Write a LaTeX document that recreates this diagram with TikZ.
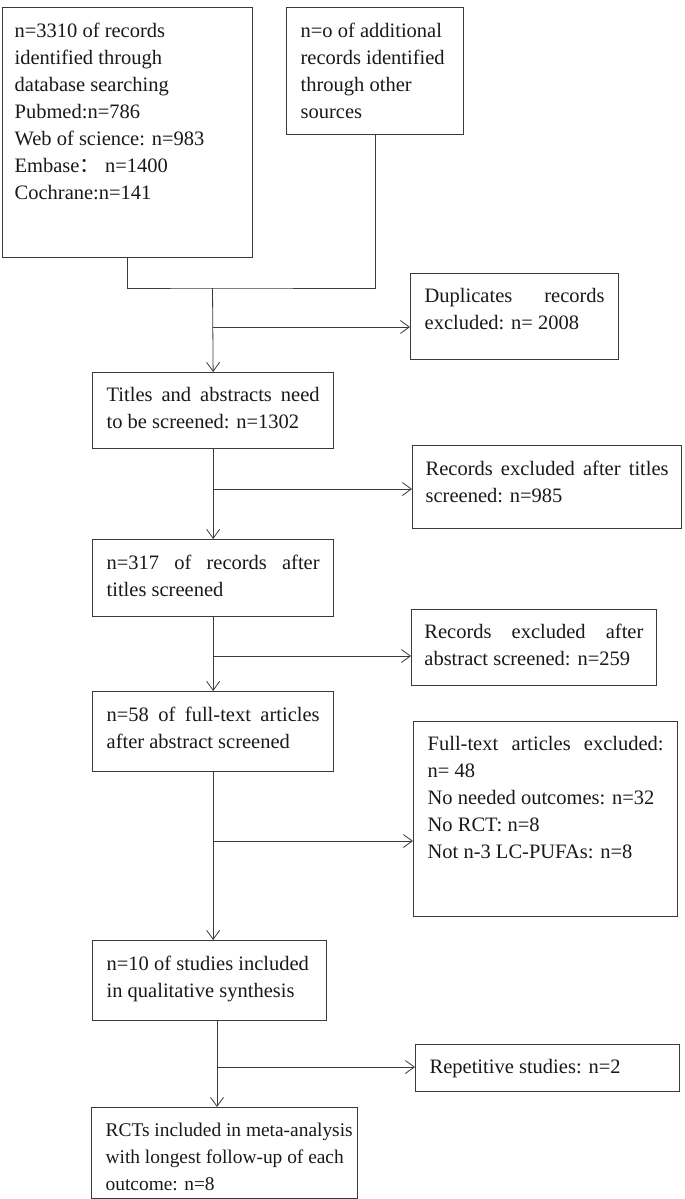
\documentclass[tikz,border=0pt]{standalone}
\usepackage{fontspec}
\setmainfont{Liberation Serif}
\newfontfamily\cjk{Noto Sans CJK SC}
\usetikzlibrary{arrows.meta}
\definecolor{linec}{HTML}{3A3A3A}
\newcommand{\boxtext}[3]{\parbox[t][#2pt][t]{#1pt}{#3}}

\begin{document}
\begin{tikzpicture}[x=1pt,y=-1pt,
  font=\fontsize{20.5}{27}\selectfont,
  box/.style={draw=linec,line width=1.3pt,anchor=north west,inner xsep=14pt,inner ysep=15pt,text=black!90},
  conn/.style={draw=linec,line width=0.8pt},
  arr/.style={conn,-{Straight Barb[length=9pt,width=13pt]}}]
  \useasboundingbox (0,0) rectangle (685,1199);

  \node[box,inner xsep=12pt] (db) at (2,7) {\boxtext{226}{220}{n=3310 of records\\
    identified through\\ database searching\\ Pubmed:n=786\\ Web of science: n=983\\
    Embase{\cjk ：} n=1400\\ Cochrane:n=141}};
  \node[box] (other) at (286,7) {\boxtext{149}{97}{n=o of additional\\ records identified\\
    through other\\ sources}};
  \node[box] (dup) at (410,273) {\boxtext{180}{56}{Duplicates records\linebreak excluded: n= 2008}};
  \node[box] (titles) at (92,372) {\boxtext{213}{46}{Titles and abstracts need\linebreak to be screened: n=1302}};
  \node[box,inner xsep=13pt] (extitle) at (412,445) {\boxtext{243}{53}{Records excluded after titles\linebreak screened: n=985}};
  \node[box] (rec317) at (92,539) {\boxtext{213}{47}{n=317 of records after\linebreak titles screened}};
  \node[box,line width=0.8pt,inner xsep=13pt] (exabs) at (411,609) {\boxtext{219}{46}{Records excluded after\linebreak abstract screened: n=259}};
  \node[box] (art58) at (92,691) {\boxtext{213}{50}{n=58 of full-text articles\linebreak after abstract screened}};
  \node[box] (exfull) at (413,721) {\boxtext{236}{165}{Full-text articles excluded:\linebreak
    n= 48\\ No needed outcomes: n=32\\ No RCT: n=8\\ Not n-3 LC-PUFAs: n=8}};
  \node[box] (stud10) at (92,940) {\boxtext{206}{50}{n=10 of studies included\\ in qualitative synthesis}};
  \node[box] (repet) at (415,1044) {\boxtext{236}{17}{Repetitive studies: n=2}};
  \node[box] (rct) at (91,1107) {\boxtext{238}{61}{\fontsize{19.4}{27}\selectfont
    \mbox{RCTs included in meta-analysis}\\ \mbox{with longest follow-up of each}\\ outcome: n=8}};

  \coordinate (join) at (212.5,288);
  \draw[conn] (db.south) |- (join) -| (other.south);
  \draw[arr] (join) -- (titles.north);
  \draw[arr] (titles.south) -- (rec317.north);
  \draw[arr] (rec317.south) -- (art58.north);
  \draw[arr] (art58.south) -- (art58.south |- stud10.north);
  \foreach \n/\x/\y/\t in {b1/212.5/327/dup,b2/212.5/489/extitle,b3/212.5/656/exabs,
    b4/212.5/841/exfull,b5/217/1067/repet} {
    \coordinate (\n) at (\x,\y);
    \draw[arr] (\n) -- (\n -| \t.west);
  }
  \draw[arr] (stud10.south -| b5) -- (rct.north -| b5);
\end{tikzpicture}
\end{document}
